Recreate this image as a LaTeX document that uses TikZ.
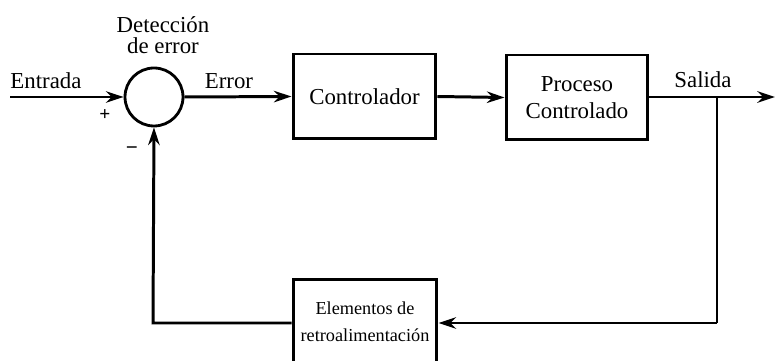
\documentclass[tikz,border=0pt]{standalone}
\usepackage{fontspec}
\setmainfont{Liberation Serif}
\usetikzlibrary{arrows.meta}
\begin{document}
\begin{tikzpicture}[x=0.02cm,y=-0.02cm,
  line/.style={line width=1.7pt},
  arr/.style={line, -{Stealth[length=10pt,width=6.5pt]}},
  block/.style={draw, line width=1.7pt, inner sep=0pt, align=center,
    font=\fontsize{13}{15.5}\selectfont},
  lbl/.style={font=\fontsize{13}{15.5}\selectfont, inner sep=0pt}]
\useasboundingbox (0,0) rectangle (775,361);
\begin{scope}
\clip (0,0) rectangle (775,361);
% summing junction
\node[circle, draw, line width=1.6pt, minimum size=1.16cm, inner sep=0pt] (sum) at (154,97) {};
% blocks
\node[block, minimum width=2.86cm, minimum height=1.7cm] (ctrl) at (364.5,96.5) {Controlador};
\node[block, minimum width=2.84cm, minimum height=1.7cm] (proc) at (577,97.5) {Proceso\\Controlado};
\node[block, minimum width=2.88cm, minimum height=1.7cm,
  font=\fontsize{10.4}{12.5}\selectfont] (fb) at (365,321.5) {Elementos de\\[3pt]retroalimentación};
% free ends and branch points
\coordinate (in) at (10,97);
\coordinate (out) at (775,97);
\coordinate (branch) at (717,97);
\coordinate (fbr) at (717,323);
\coordinate (fbl) at (153,323);
% connectors
\draw[arr] (in) -- (sum.west);
\draw[arr] (sum.east) -- (ctrl.west);
\draw[arr] (ctrl.east) -- (proc.west);
\draw[arr] (proc.east |- out) -- (out);
\draw[line] (branch) -- (fbr);
\draw[arr] (fbr) -- (fbr -| fb.east);
\draw[arr] (fbl -| fb.west) -- (fbl) -- (sum.south);
% labels
\node[lbl] (lin) at (46,81) {Entrada};
\node[lbl] (lerr) at (229,81) {Error};
\node[lbl] (lout) at (703,80) {Salida};
\node[lbl, align=center, font=\fontsize{13}{12}\selectfont] (ldet) at (163,35) {Detección\\de error};
\node[lbl, font=\fontsize{11}{13}\selectfont\bfseries] (lplus) at (105,115) {+};
\node[lbl, font=\fontsize{12}{13}\selectfont\bfseries] (lminus) at (132,151) {\textminus};
\end{scope}
\end{tikzpicture}
\end{document}
